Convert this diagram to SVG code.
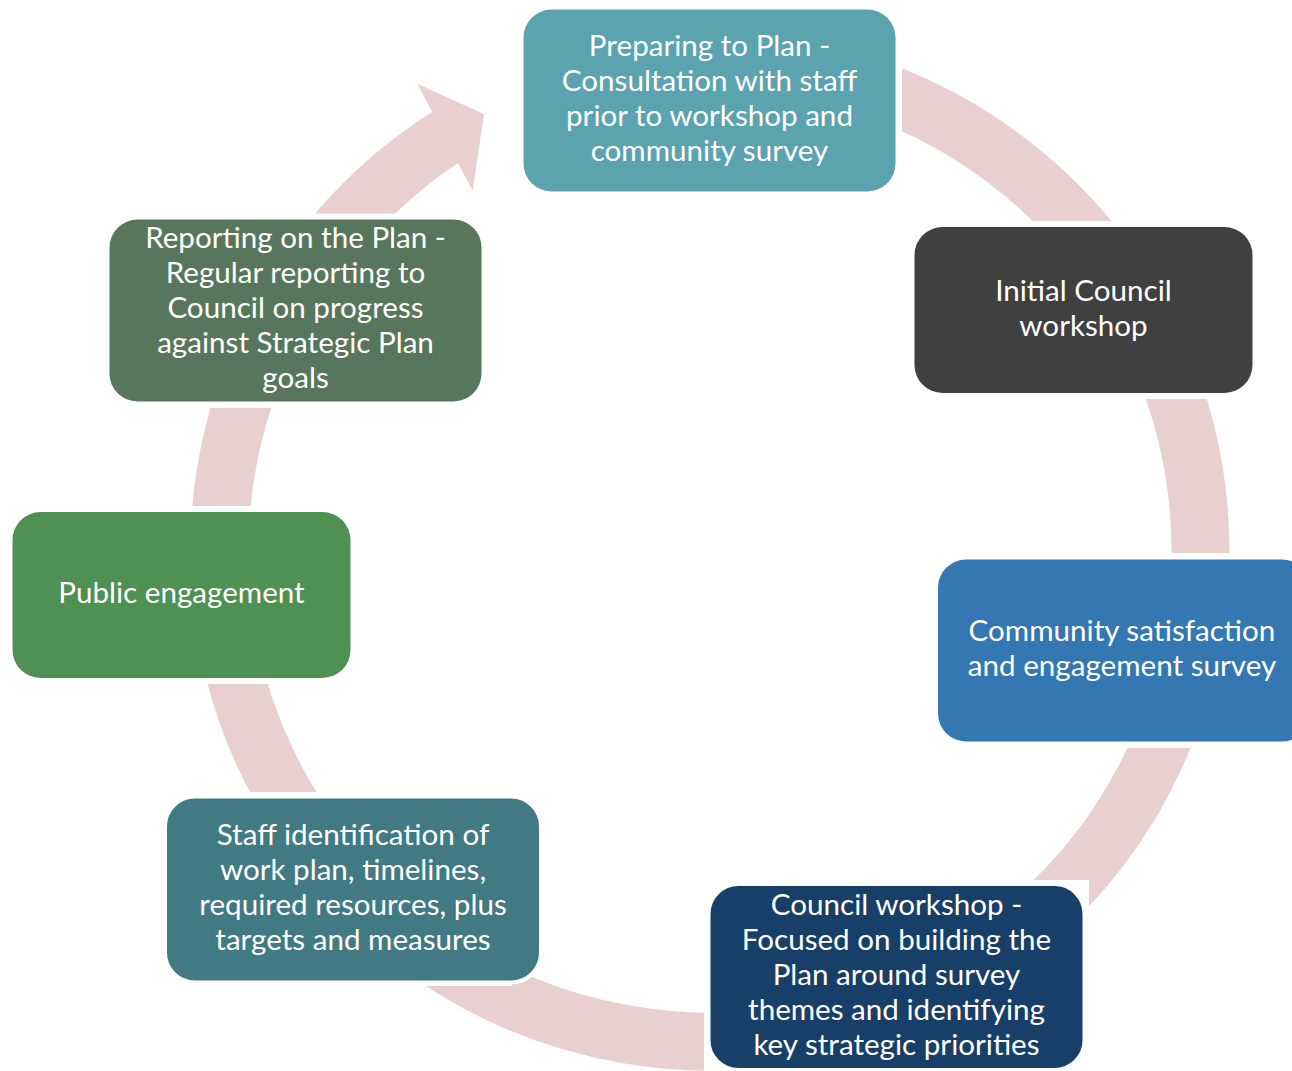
<svg xmlns="http://www.w3.org/2000/svg" width="1292" height="1071" viewBox="0 0 1292 1071">
<style>
.lbl{font-family:Lato,"Open Sans","Liberation Sans",sans-serif;font-size:29.6px;fill:#ffffff;text-anchor:middle}
.ring{fill:none;stroke:#E8D0D1;stroke-width:58}
.outlined{stroke:#ffffff;stroke-width:4}
</style>
<defs>
<mask id="gaps" maskUnits="userSpaceOnUse" x="0" y="0" width="1292" height="1071">
<rect x="0" y="0" width="1292" height="1071" fill="#fff"/>
<rect x="517" y="3" width="385" height="195" fill="#000"/>
<rect x="908" y="221" width="351" height="178" fill="#000"/>
<rect x="932" y="553" width="360" height="195" fill="#000"/>
<rect x="704" y="880" width="385" height="191" fill="#000"/>
<rect x="160" y="792" width="352" height="194" fill="#000"/>
<rect x="6" y="506" width="351" height="178" fill="#000"/>
<rect x="103" y="213" width="386" height="195" fill="#000"/>
</mask>
</defs>
<g id="connectors">
<path class="ring" mask="url(#gaps)" d="M 624.8 68 A 490.5 490.5 0 1 1 249.1 383.2"/>
<path fill="#E8D0D1" d="M 315.1 213.5 A 519.5 519.5 0 0 1 432 112 L 417.7 84 L 484 114 L 472.7 190.7 L 458 163 A 461.5 461.5 0 0 0 395.2 213.5 Z"/>
</g>
<g id="node-preparing">
<rect x="523.5" y="9.5" width="372" height="182" rx="28" fill="#5BA3AF"/>
<text class="lbl" x="709.5" y="56">Preparing to Plan -</text>
<text class="lbl" x="709.5" y="91">Consultation with staff</text>
<text class="lbl" x="709.5" y="126">prior to workshop and</text>
<text class="lbl" x="709.5" y="161">community survey</text>
</g>
<g id="node-initial">
<rect x="914.5" y="227" width="338" height="166" rx="28" fill="#404040"/>
<text class="lbl" x="1083.5" y="301">Initial Council</text>
<text class="lbl" x="1083.5" y="336">workshop</text>
</g>
<g id="node-survey">
<rect x="938" y="559.5" width="372" height="182" rx="28" fill="#3577B2"/>
<text class="lbl" x="1122" y="641">Community satisfaction</text>
<text class="lbl" x="1122" y="676">and engagement survey</text>
</g>
<g id="node-council-workshop">
<rect class="outlined" x="708.5" y="884" width="376" height="186" rx="30" fill="#173F68"/>
<text class="lbl" x="896.5" y="915">Council workshop -</text>
<text class="lbl" x="896.5" y="950">Focused on building the</text>
<text class="lbl" x="896.5" y="985">Plan around survey</text>
<text class="lbl" x="896.5" y="1020">themes and identifying</text>
<text class="lbl" x="896.5" y="1055">key strategic priorities</text>
</g>
<g id="node-staff">
<rect class="outlined" x="165" y="796.5" width="376" height="186" rx="30" fill="#417A83"/>
<text class="lbl" x="353" y="845">Staff identification of</text>
<text class="lbl" x="353" y="880">work plan, timelines,</text>
<text class="lbl" x="353" y="915">required resources, plus</text>
<text class="lbl" x="353" y="950">targets and measures</text>
</g>
<g id="node-public">
<rect x="12.5" y="512" width="338" height="166" rx="28" fill="#4E9152"/>
<text class="lbl" x="181.5" y="603">Public engagement</text>
</g>
<g id="node-reporting">
<rect x="109.5" y="219.5" width="372" height="182" rx="28" fill="#58765B"/>
<text class="lbl" x="295.5" y="248">Reporting on the Plan -</text>
<text class="lbl" x="295.5" y="283">Regular reporting to</text>
<text class="lbl" x="295.5" y="318">Council on progress</text>
<text class="lbl" x="295.5" y="353">against Strategic Plan</text>
<text class="lbl" x="295.5" y="388">goals</text>
</g>
</svg>
